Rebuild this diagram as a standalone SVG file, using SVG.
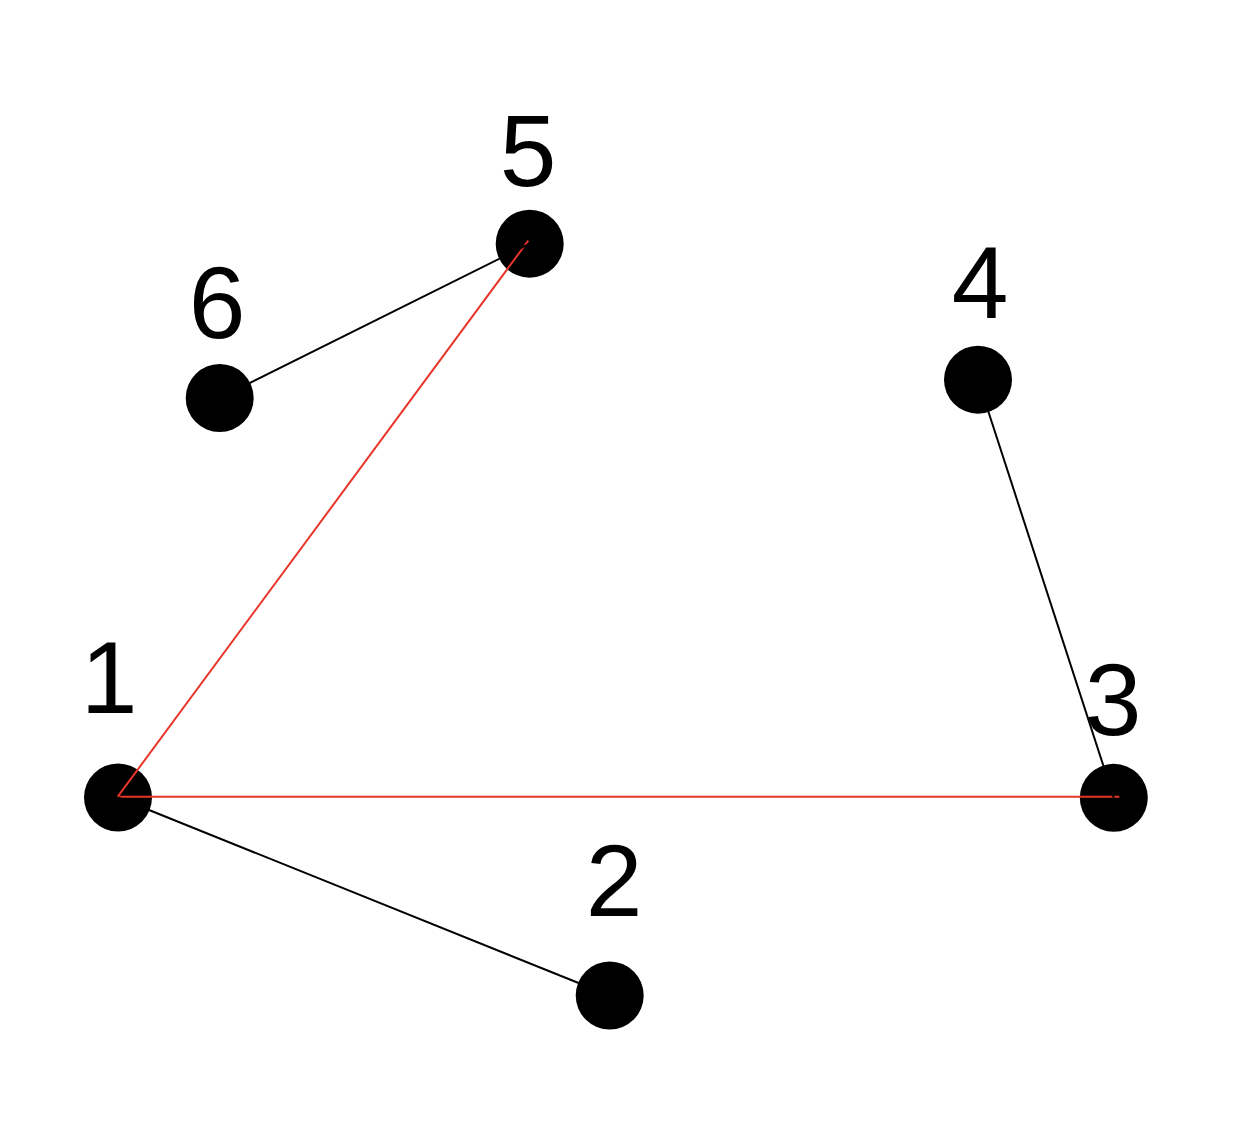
<svg xmlns="http://www.w3.org/2000/svg" width="1258" height="1122" viewBox="0 0 1258 1122">
<style>
.node circle{fill:#000}
.lbl{font-family:"Liberation Sans",Arial,sans-serif;font-size:102px;fill:#000;text-anchor:middle}
.e{stroke:#000;stroke-width:2;fill:none}
.r{stroke:#e8352a;stroke-width:2;fill:none}
</style>
<rect width="1258" height="1122" fill="#fff"/>
<g id="nodes">
<g id="n1" class="node"><circle cx="118" cy="797.5" r="34"/><text class="lbl" x="109" y="713">1</text></g>
<g id="n2" class="node"><circle cx="609.7" cy="995.5" r="34"/><text class="lbl" x="614" y="916">2</text></g>
<g id="n3" class="node"><circle cx="1113.8" cy="797.8" r="34"/><text class="lbl" x="1113" y="735">3</text></g>
<g id="n4" class="node"><circle cx="978" cy="379.7" r="34"/><text class="lbl" x="980" y="318">4</text></g>
<g id="n5" class="node"><circle cx="529.7" cy="243.7" r="34"/><text class="lbl" x="528" y="186">5</text></g>
<g id="n6" class="node"><circle cx="219.7" cy="398" r="34"/><text class="lbl" x="217" y="338">6</text></g>
</g>
<g id="edges">
<line class="r" x1="117.7" y1="796.7" x2="528.3" y2="240.7"/>
<line class="r" x1="117.7" y1="796.7" x2="1119.3" y2="796.7"/>
<line class="e" x1="118" y1="797.5" x2="609.7" y2="995.5"/>
<line class="e" x1="219.7" y1="398" x2="529.7" y2="243.7"/>
<line class="e" x1="978" y1="379.7" x2="1113.8" y2="797.8"/>
</g>
</svg>
